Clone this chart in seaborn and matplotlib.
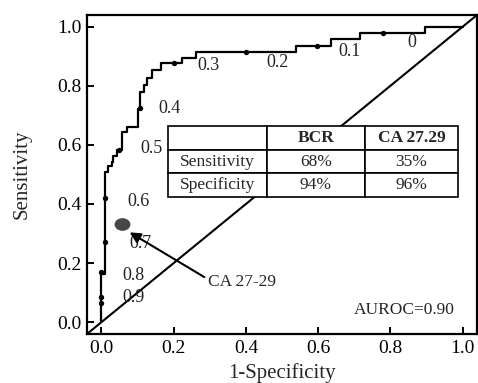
import numpy as np
import pandas as pd
import matplotlib
matplotlib.use("Agg")
import matplotlib.pyplot as plt
import seaborn as sns
from matplotlib.path import Path
from matplotlib.markers import MarkerStyle
from matplotlib.transforms import Affine2D

# ---------------- data ----------------
# ROC staircase vertices (steps-post)
fpr = [0.000, 0.000, 0.011, 0.019, 0.028, 0.033, 0.042, 0.058, 0.072, 0.100,
       0.108, 0.119, 0.127, 0.139, 0.166, 0.224, 0.263, 0.540, 0.637, 0.715,
       0.895, 1.000]
tpr = [0.000, 0.162, 0.507, 0.527, 0.541, 0.564, 0.584, 0.645, 0.662, 0.720,
       0.780, 0.804, 0.828, 0.855, 0.878, 0.895, 0.916, 0.936, 0.959, 0.980,
       1.000, 1.000]

# threshold markers on the curve
dot_fpr = [0.000, 0.000, 0.000, 0.011, 0.011, 0.050, 0.108, 0.200, 0.400, 0.596, 0.780]
dot_tpr = [0.064, 0.084, 0.169, 0.270, 0.419, 0.584, 0.726, 0.878, 0.916, 0.936, 0.980]

thresh_labels = ["0.9", "0.8", "0.7", "0.6", "0.5", "0.4", "0.3", "0.2", "0.1", "0"]
label_dot_index = [1, 2, 3, 4, 5, 6, 7, 8, 9, 10]

# CA 27-29 single operating point
ca_fpr = [0.058]
ca_tpr = [0.331]
ca_label = "CA 27-29"

table_header = ["", "BCR", "CA 27.29"]
table_rows = ["Sensitivity", "Specificity"]
bcr_vals = ["68%", "94%"]
ca_vals = ["35%", "96%"]

auroc_text = "AUROC=0.90"
ticks = [0.0, 0.2, 0.4, 0.6, 0.8, 1.0]
tick_labels = ["0.0", "0.2", "0.4", "0.6", "0.8", "1.0"]

# ---------------- layout / style ----------------
label_offsets_px = [(32, 0), (32, -3), (35, -1), (33, -3), (32, 1),
                    (29, -1), (35, -3), (32, -11), (33, -6), (29, -10)]

sns.set_theme(style="ticks")
plt.rcParams['font.family'] = ['Liberation Serif', 'DejaVu Serif']

fig = plt.figure(figsize=(4.78, 3.83), dpi=100)
ax = fig.add_axes([0.182, 0.128, 0.816, 0.833])

roc_df = pd.DataFrame({"fpr": fpr, "tpr": tpr})
sns.lineplot(data=roc_df, x="fpr", y="tpr", ax=ax, sort=False, estimator=None,
             drawstyle="steps-post", color="black", linewidth=1.6, zorder=3)

dots_df = pd.DataFrame({"fpr": dot_fpr, "tpr": dot_tpr})
sns.scatterplot(data=dots_df, x="fpr", y="tpr", ax=ax, color="black", s=15,
                edgecolor="black", linewidth=0, zorder=4)

ax.axline((0, 0), (1, 1), color="black", linewidth=1.5, zorder=2)

# ellipse marker for CA 27-29
ell = Path.unit_circle().transformed(Affine2D().scale(1.0, 0.8))
ca_df = pd.DataFrame({"fpr": ca_fpr, "tpr": ca_tpr})
sns.scatterplot(data=ca_df, x="fpr", y="tpr", ax=ax, marker=MarkerStyle(ell),
                s=130, color="#474747", edgecolor="#474747", linewidth=0, zorder=4)

for lab, idx, (dx, dy) in zip(thresh_labels, label_dot_index, label_offsets_px):
    ax.annotate(lab, xy=(dot_fpr[idx], dot_tpr[idx]), xytext=(dx, dy),
                textcoords="offset pixels", ha="center", va="center",
                fontsize=13, color="#222222", zorder=6)

ax.annotate(ca_label, xy=(ca_fpr[0] + 0.02, ca_tpr[0] - 0.027), xytext=(0.294, 0.135),
            textcoords="data", ha="left", va="center", fontsize=12.5,
            arrowprops=dict(arrowstyle="-|>", color="black", lw=1.5,
                            mutation_scale=16, shrinkA=0, shrinkB=0,
                            relpos=(0.0, 0.7)),
            zorder=6)

ax.text(0.944, 0.075, auroc_text, transform=ax.transAxes, ha="right",
        va="center", fontsize=12.5)

cell_text = [table_header,
             [table_rows[0], bcr_vals[0], ca_vals[0]],
             [table_rows[1], bcr_vals[1], ca_vals[1]]]
tab = ax.table(cellText=cell_text, cellLoc="center",
               colWidths=[0.341, 0.338, 0.321],
               bbox=[0.208, 0.429, 0.743, 0.223], zorder=5)
tab.auto_set_font_size(False)
tab.set_fontsize(12.5)
for (r, c), cell in tab.get_celld().items():
    cell.set_linewidth(1.2)
    cell.set_edgecolor("black")
    cell.set_facecolor("white")
    if r == 0:
        cell.get_text().set_fontweight("bold")
    if c == 0:
        cell._loc = "left"
        cell.PAD = 0.03
tab.set_zorder(5)

ax.set_xlim(-0.04, 1.04)
ax.set_ylim(-0.04, 1.04)
ax.set_xticks(ticks)
ax.set_xticklabels(tick_labels)
ax.set_yticks(ticks)
ax.set_yticklabels(tick_labels)
ax.tick_params(direction="in", length=5, width=1.4, labelsize=14, colors="black", pad=4)
for sp in ax.spines.values():
    sp.set_visible(True)
    sp.set_linewidth(1.6)
    sp.set_color("black")
ax.set_xlabel("1-Specificity", fontsize=15, labelpad=5)
ax.set_ylabel("Sensitivity", fontsize=15, labelpad=18)

fig.savefig("out.png", dpi=100)
